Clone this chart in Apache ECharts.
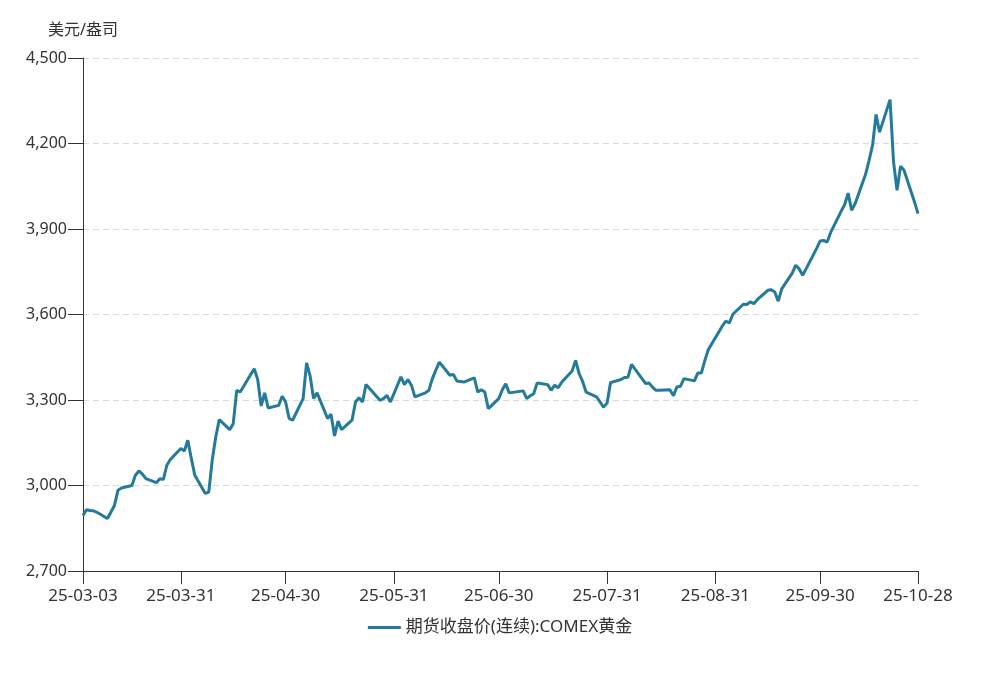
<!DOCTYPE html>
<html><head><meta charset="utf-8">
<script src="https://cdn.jsdelivr.net/npm/echarts@6/dist/echarts.min.js"></script>
<style>html,body{margin:0;padding:0;background:#fff}#c{width:1000px;height:693px}</style>
</head><body><div id="c"></div>
<script>
const seriesName = '期货收盘价(连续):COMEX黄金';
const unitName = '美元/盎司';
const dates = [
'2025-03-03','2025-03-04','2025-03-05','2025-03-06','2025-03-07','2025-03-10','2025-03-11','2025-03-12','2025-03-13','2025-03-14',
'2025-03-17','2025-03-18','2025-03-19','2025-03-20','2025-03-21','2025-03-24','2025-03-25','2025-03-26','2025-03-27','2025-03-28',
'2025-03-31','2025-04-01','2025-04-02','2025-04-03','2025-04-04','2025-04-07','2025-04-08','2025-04-09','2025-04-10','2025-04-11',
'2025-04-14','2025-04-15','2025-04-16','2025-04-17','2025-04-21','2025-04-22','2025-04-23','2025-04-24','2025-04-25','2025-04-28',
'2025-04-29','2025-04-30','2025-05-01','2025-05-02','2025-05-05','2025-05-06','2025-05-07','2025-05-08','2025-05-09','2025-05-12',
'2025-05-13','2025-05-14','2025-05-15','2025-05-16','2025-05-19','2025-05-20','2025-05-21','2025-05-22','2025-05-23','2025-05-27',
'2025-05-28','2025-05-29','2025-05-30','2025-06-02','2025-06-03','2025-06-04','2025-06-05','2025-06-06','2025-06-09','2025-06-10',
'2025-06-11','2025-06-12','2025-06-13','2025-06-16','2025-06-17','2025-06-18','2025-06-20','2025-06-23','2025-06-24','2025-06-25',
'2025-06-26','2025-06-27','2025-06-30','2025-07-01','2025-07-02','2025-07-03','2025-07-07','2025-07-08','2025-07-09','2025-07-10',
'2025-07-11','2025-07-14','2025-07-15','2025-07-16','2025-07-17','2025-07-18','2025-07-21','2025-07-22','2025-07-23','2025-07-24',
'2025-07-25','2025-07-28','2025-07-29','2025-07-30','2025-07-31','2025-08-01','2025-08-04','2025-08-05','2025-08-06','2025-08-07',
'2025-08-08','2025-08-11','2025-08-12','2025-08-13','2025-08-14','2025-08-15','2025-08-18','2025-08-19','2025-08-20','2025-08-21',
'2025-08-22','2025-08-25','2025-08-26','2025-08-27','2025-08-28','2025-08-29','2025-09-02','2025-09-03','2025-09-04','2025-09-05',
'2025-09-08','2025-09-09','2025-09-10','2025-09-11','2025-09-12','2025-09-15','2025-09-16','2025-09-17','2025-09-18','2025-09-19',
'2025-09-22','2025-09-23','2025-09-24','2025-09-25','2025-09-26','2025-09-29','2025-09-30','2025-10-01','2025-10-02','2025-10-03',
'2025-10-06','2025-10-07','2025-10-08','2025-10-09','2025-10-10','2025-10-13','2025-10-14','2025-10-15','2025-10-16','2025-10-17',
'2025-10-20','2025-10-21','2025-10-22','2025-10-23','2025-10-24','2025-10-27','2025-10-28'
];
const prices = [
2895,2915,2912,2911,2906,2884,2907,2930,2983,2991,
3000,3036,3051,3040,3024,3010,3024,3021,3071,3091,
3130,3121,3159,3095,3036,2972,2977,3090,3170,3231,
3196,3217,3334,3328,3410,3372,3279,3325,3272,3281,
3313,3293,3235,3229,3305,3430,3385,3305,3325,3235,
3250,3174,3226,3196,3229,3293,3308,3293,3354,3299,
3305,3316,3293,3381,3354,3372,3352,3311,3325,3334,
3375,3405,3433,3387,3390,3367,3363,3378,3328,3336,
3328,3270,3305,3335,3357,3325,3332,3305,3315,3322,
3360,3354,3334,3352,3343,3362,3402,3439,3393,3365,
3328,3311,3293,3275,3289,3361,3372,3379,3380,3425,
3408,3358,3360,3345,3334,3334,3336,3315,3346,3348,
3375,3367,3395,3395,3439,3477,3560,3577,3570,3601,
3636,3635,3644,3638,3652,3685,3687,3679,3647,3690,
3745,3773,3760,3738,3761,3832,3858,3860,3854,3888,
3962,3985,4026,3966,3989,4092,4141,4194,4302,4240,
4354,4135,4036,4120,4106,3995,3954
];
const xTickDates = ['2025-03-03','2025-03-31','2025-04-30','2025-05-31','2025-06-30','2025-07-31','2025-08-31','2025-09-30','2025-10-28'];
const yMin = 2700, yMax = 4500, yStep = 300;

function toTs(s){const p=s.split('-').map(Number);return Date.UTC(p[0],p[1]-1,p[2]);}
function pad(n){return (n<10?'0':'')+n;}
function fmt(v){const d=new Date(v);return pad(d.getUTCFullYear()%100)+'-'+pad(d.getUTCMonth()+1)+'-'+pad(d.getUTCDate());}

const font = '"Noto Sans", "Noto Sans CJK SC", sans-serif';
const xTicks = xTickDates.map(toTs);
const chart = echarts.init(document.getElementById('c'), null, {renderer:'canvas'});
chart.setOption({
  animation:false,
  backgroundColor:'#fff',
  grid:{left:83,right:82,top:58,bottom:122,containLabel:false},
  legend:{bottom:52,left:'center',icon:'rect',itemWidth:33,itemHeight:3,itemGap:10,
    textStyle:{fontFamily:font,fontSize:17,color:'#333'},data:[seriesName]},
  xAxis:{type:'value',min:xTicks[0],max:xTicks[xTicks.length-1],scale:true,
    axisLine:{show:true,lineStyle:{color:'#333',width:1}},
    axisTick:{show:true,length:13,lineStyle:{color:'#333'},customValues:xTicks},
    axisLabel:{customValues:xTicks,formatter:fmt,margin:17,fontFamily:font,fontSize:17,color:'#333',hideOverlap:false},
    splitLine:{show:false}},
  yAxis:{type:'value',min:yMin,max:yMax,interval:yStep,name:unitName,nameLocation:'end',nameGap:20,
    nameTextStyle:{fontFamily:font,fontSize:16,color:'#333',align:'center'},
    axisLine:{show:true,lineStyle:{color:'#333',width:1}},
    axisTick:{show:true,length:15,lineStyle:{color:'#333'}},
    axisLabel:{margin:16,fontFamily:font,fontSize:16,color:'#333',formatter:v=>v.toLocaleString('en-US')},
    splitLine:{show:true,lineStyle:{color:'#d9d9d9',type:[6,4],width:1}}},
  series:[{name:seriesName,type:'line',symbol:'none',smooth:false,
    lineStyle:{width:3,color:'#237a9a'},itemStyle:{color:'#237a9a'},
    data:dates.map((d,i)=>[toTs(d),prices[i]])}]
});
</script></body></html>
